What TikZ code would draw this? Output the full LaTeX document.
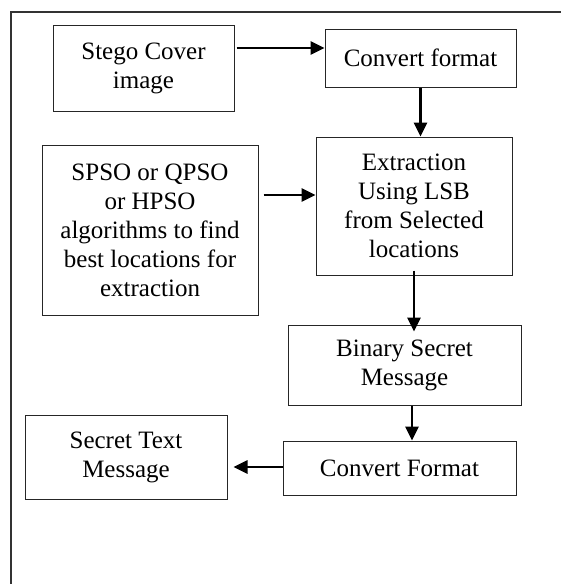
\documentclass[tikz,border=0pt]{standalone}
\usepackage{fontspec}
\setmainfont{Liberation Serif}
\usetikzlibrary{arrows.meta}
\begin{document}
\begin{tikzpicture}[x=1pt,y=-1pt,
  box/.style={draw=black!85,line width=1pt,rectangle,inner sep=0pt,align=center,
    font=\fontsize{25}{29}\selectfont},
  arr/.style={line width=2.6pt,-{Triangle[length=14pt,width=13pt]}}]
\useasboundingbox (0,0) rectangle (560,584);
\draw[line width=1.4pt,black!80] (11,590) -- (11,12) -- (570,12);
\node[box,minimum width=181pt,minimum height=86pt] (stego) at (143.5,68) {Stego Cover\\image};
\node[box,minimum width=191pt,minimum height=58pt] (conv1) at (420.5,58) {Convert format};
\node[box,minimum width=196pt,minimum height=138pt] (extr) at (414,206) {Extraction\\Using LSB\\from Selected\\locations};
\node[box,minimum width=216pt,minimum height=170pt] (spso) at (150,230) {SPSO or QPSO\\or HPSO\\algorithms to find\\best locations for\\extraction};
\node[box,minimum width=233pt,minimum height=80pt] (bin) at (404.5,365) {Binary Secret\\Message};
\node[box,minimum width=233pt,minimum height=54pt] (conv2) at (399.5,468) {Convert Format};
\node[box,minimum width=202pt,minimum height=84pt] (secret) at (126,457) {Secret Text\\Message};
\coordinate (y1) at (0,48);
\coordinate (y2) at (0,195);
\coordinate (y3) at (0,467);
\coordinate (x3) at (414,0);
\coordinate (x4) at (412,0);
\draw[arr] ([xshift=2pt]stego.east |- y1) -- (conv1.west |- y1);
\draw[arr] (conv1.south) -- (conv1.south |- extr.north);
\draw[arr] ([xshift=5pt]spso.east |- y2) -- (extr.west |- y2);
\draw[arr] ([yshift=5pt]x3 |- extr.south) -- ([yshift=-7pt]x3 |- bin.north);
\draw[arr] (x4 |- bin.south) -- (x4 |- conv2.north);
\draw[arr] (conv2.west |- y3) -- ([xshift=6pt]secret.east |- y3);
\end{tikzpicture}
\end{document}
